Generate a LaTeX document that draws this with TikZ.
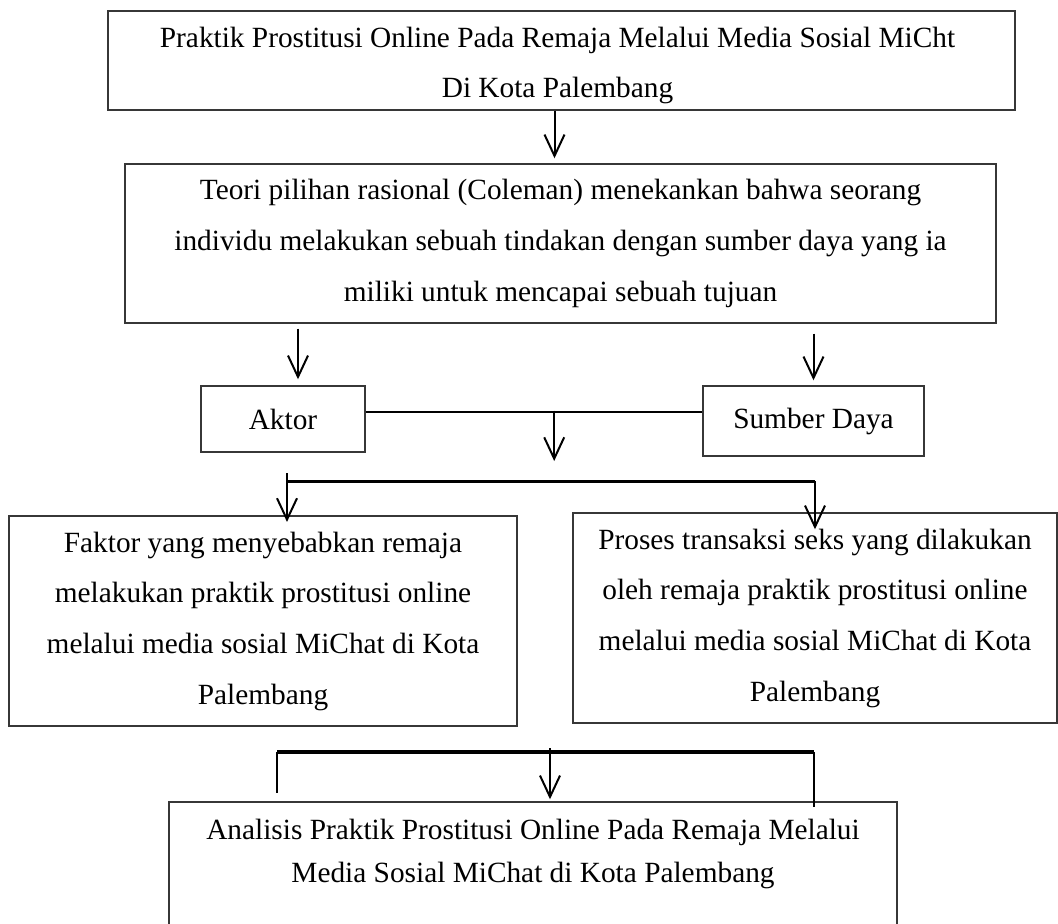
\documentclass[tikz,border=0pt]{standalone}
\usepackage{fontspec}
\setmainfont{Liberation Serif}
\usetikzlibrary{arrows.meta, positioning, calc}
\definecolor{frameGray}{RGB}{55,55,55}
\tikzset{
    kerangka/.style={x=0.75pt, y=-0.75pt, line join=miter,
                     font=\fontsize{22}{38}\selectfont},
    box/.style={draw=frameGray, line width=1.1pt, align=center, inner sep=0pt},
    teks/.style={align=center, inner sep=0pt},
    arr/.style={-{Straight Barb[length=16pt, width=15pt]}, line width=1.5pt, draw=black},
    link/.style={line width=2pt, draw=black},
    bar/.style={line width=2.6pt, draw=black},
}

\begin{document}
\begin{tikzpicture}[kerangka]

\useasboundingbox (0,0) rectangle (1058,924);
\clip (0,0) rectangle (1058,924);

% ─── Kotak ──────────────────────────────────────────────────────────────
\node[box, minimum width=680.25pt, minimum height=74.25pt] (judul) at (561.5,60.5) {};
\node[teks, font=\fontsize{22}{37.5}\selectfont] (judulTeks) at ($(judul.center)+(-4,5)$)
      {Praktik Prostitusi Online Pada Remaja Melalui Media Sosial MiCht\\Di Kota Palembang};
\node[box, minimum width=653.25pt, minimum height=119.25pt] (teori) at (560.5,243.5)
      {Teori pilihan rasional (Coleman) menekankan bahwa seorang\\individu melakukan sebuah tindakan dengan sumber daya yang ia\\miliki untuk mencapai sebuah tujuan};
\node[box, minimum width=123pt, minimum height=49.5pt] (aktor) at (283,419) {Aktor};
\node[box, minimum width=165.75pt, minimum height=52.5pt] (sumber) at (813.5,421) {Sumber Daya};
\node[box, minimum width=381pt, minimum height=157.5pt] (faktor) at (263,621)
      {Faktor yang menyebabkan remaja\\melakukan praktik prostitusi online\\melalui media sosial MiChat di Kota\\Palembang};
\node[box, minimum width=363pt, minimum height=157.5pt] (proses) at (815,618)
      {Proses transaksi seks yang dilakukan\\oleh remaja praktik prostitusi online\\melalui media sosial MiChat di Kota\\Palembang};
\node[box, minimum width=546pt, minimum height=118.5pt] (analisis) at (533,881) {};
\node[teks, anchor=north, font=\fontsize{22}{32.25}\selectfont] (analisisTeks)
      at ($(analisis.north)+(0,18)$)
      {Analisis Praktik Prostitusi Online Pada Remaja Melalui\\Media Sosial MiChat di Kota Palembang};

% ─── Titik bantu ────────────────────────────────────────────────────────
\coordinate (judulOut) at ($(judul.south)+(-7,0)$);
\coordinate (aktorIn)  at ($(aktor.north)+(15,0)$);
\coordinate (splitL)   at ($(faktor.north)+(24,-34)$);
\coordinate (splitR)   at (proses.north |- splitL);
\coordinate (splitTop) at ($(splitL)+(0,-8)$);
\coordinate (mergeL)   at (277,752);
\coordinate (mergeR)   at (814,752);
\coordinate (mergeC)   at (550,752);
\coordinate (mergeLend) at ($(mergeL)+(0,41)$);
\coordinate (mergeRend) at ($(mergeR |- analisis.north)+(0,6)$);

% ─── Panah ──────────────────────────────────────────────────────────────
\draw[arr, shorten >=3.75pt] (judulOut) -- (judulOut |- teori.north);
\draw[arr, shorten <=3.75pt, shorten >=4.5pt] (aktorIn |- teori.south) -- (aktorIn);
\draw[arr, shorten <=7.5pt, shorten >=3.75pt] (sumber.north |- teori.south) -- (sumber.north);

% Aktor -- Sumber Daya
\draw[link] ($(aktor.east)+(0,-7)$) -- coordinate[pos=0.56] (join) ($(aktor.east -| sumber.west)+(0,-7)$);
\coordinate (joinEnd) at ($(join)+(0,49)$);
\draw[arr, shorten <=-1pt] (join) -- (joinEnd);

% Percabangan ke dua fokus
\draw[bar] (splitL) -- (splitR);
\draw[arr, shorten >=-5pt] (splitTop) -- (splitL |- faktor.north);
\draw[arr, shorten >=-12.75pt] (splitR) -- (splitR |- proses.north);

% Penggabungan ke analisis
\draw[bar] (mergeL) -- (mergeR);
\draw[link] (mergeL) -- (mergeLend);
\draw[link] (mergeR) -- (mergeRend);
\draw[arr, shorten <=-3pt, shorten >=1.5pt] (mergeC) -- (mergeC |- analisis.north);

\end{tikzpicture}
\end{document}
